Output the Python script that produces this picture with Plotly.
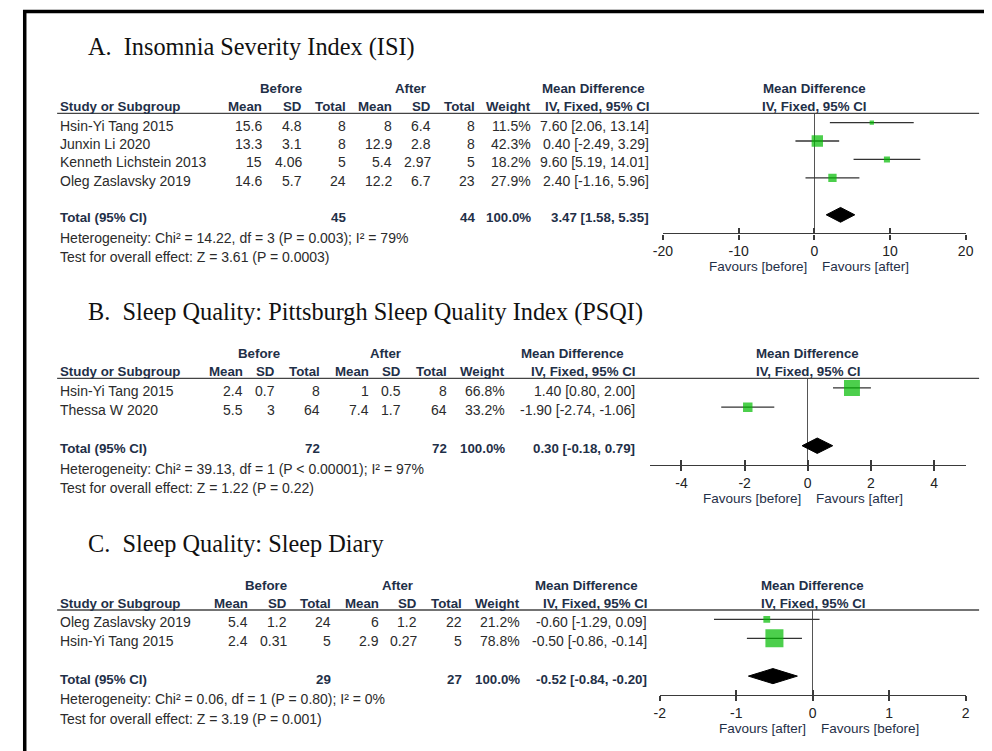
import plotly.graph_objects as go

W, H = 992, 751

# ------------------------------------------------------------------ data
# Panel A: Insomnia Severity Index
a_title = "A.\u00a0\u00a0Insomnia Severity Index (ISI)"
a_studies = ["Hsin-Yi Tang 2015", "Junxin Li 2020", "Kenneth Lichstein 2013", "Oleg Zaslavsky 2019"]
a_before_mean = [15.6, 13.3, 15, 14.6]
a_before_sd = [4.8, 3.1, 4.06, 5.7]
a_before_n = [8, 8, 5, 24]
a_after_mean = [8, 12.9, 5.4, 12.2]
a_after_sd = [6.4, 2.8, 2.97, 6.7]
a_after_n = [8, 8, 5, 23]
a_weight = [11.5, 42.3, 18.2, 27.9]
a_md = [7.60, 0.40, 9.60, 2.40]
a_lo = [2.06, -2.49, 5.19, -1.16]
a_hi = [13.14, 3.29, 14.01, 5.96]
a_total_n = [45, 44]
a_total_weight = 100.0
a_total_md = [3.47, 1.58, 5.35]
a_het = "Heterogeneity: Chi\u00b2 = 14.22, df = 3 (P = 0.003); I\u00b2 = 79%"
a_test = "Test for overall effect: Z = 3.61 (P = 0.0003)"
a_ticks = [-20, -10, 0, 10, 20]
a_xrange = [-20, 20]
a_favours = ["Favours [before]", "Favours [after]"]

# Panel B: PSQI
b_title = "B.\u00a0\u00a0Sleep Quality: Pittsburgh Sleep Quality Index (PSQI)"
b_studies = ["Hsin-Yi Tang 2015", "Thessa W 2020"]
b_before_mean = [2.4, 5.5]
b_before_sd = [0.7, 3]
b_before_n = [8, 64]
b_after_mean = [1, 7.4]
b_after_sd = [0.5, 1.7]
b_after_n = [8, 64]
b_weight = [66.8, 33.2]
b_md = [1.40, -1.90]
b_lo = [0.80, -2.74]
b_hi = [2.00, -1.06]
b_total_n = [72, 72]
b_total_weight = 100.0
b_total_md = [0.30, -0.18, 0.79]
b_het = "Heterogeneity: Chi\u00b2 = 39.13, df = 1 (P < 0.00001); I\u00b2 = 97%"
b_test = "Test for overall effect: Z = 1.22 (P = 0.22)"
b_ticks = [-4, -2, 0, 2, 4]
b_xrange = [-5, 5]
b_favours = ["Favours [before]", "Favours [after]"]

# Panel C: Sleep Diary
c_title = "C.\u00a0\u00a0Sleep Quality: Sleep Diary"
c_studies = ["Oleg Zaslavsky 2019", "Hsin-Yi Tang 2015"]
c_before_mean = [5.4, 2.4]
c_before_sd = [1.2, 0.31]
c_before_n = [24, 5]
c_after_mean = [6, 2.9]
c_after_sd = [1.2, 0.27]
c_after_n = [22, 5]
c_weight = [21.2, 78.8]
c_md = [-0.60, -0.50]
c_lo = [-1.29, -0.86]
c_hi = [0.09, -0.14]
c_total_n = [29, 27]
c_total_weight = 100.0
c_total_md = [-0.52, -0.84, -0.20]
c_het = "Heterogeneity: Chi\u00b2 = 0.06, df = 1 (P = 0.80); I\u00b2 = 0%"
c_test = "Test for overall effect: Z = 3.19 (P = 0.001)"
c_ticks = [-2, -1, 0, 1, 2]
c_xrange = [-2, 2]
c_favours = ["Favours [after]", "Favours [before]"]

col_headers = ["Mean", "SD", "Total", "Mean", "SD", "Total", "Weight", "IV, Fixed, 95% CI"]

# ------------------------------------------------------------------ layout (pixel geometry)
panels = [
    dict(title=a_title, studies=a_studies, bm=a_before_mean, bs=a_before_sd, bn=a_before_n,
         am=a_after_mean, asd=a_after_sd, an=a_after_n, w=a_weight, md=a_md, lo=a_lo, hi=a_hi,
         tn=a_total_n, tw=a_total_weight, tmd=a_total_md, het=a_het, test=a_test,
         ticks=a_ticks, xr=a_xrange, fav=a_favours,
         title_y=47, line_y=113.3, axis_y=233.3, px0=665, px1=973.3,
         cols=[257.5, 298, 343, 390, 430, 475, 532, 652], before_c=276, after_c=408, mdc=594),
    dict(title=b_title, studies=b_studies, bm=b_before_mean, bs=b_before_sd, bn=b_before_n,
         am=b_after_mean, asd=b_after_sd, an=b_after_n, w=b_weight, md=b_md, lo=b_lo, hi=b_hi,
         tn=b_total_n, tw=b_total_weight, tmd=b_total_md, het=b_het, test=b_test,
         ticks=b_ticks, xr=b_xrange, fav=b_favours,
         title_y=312, line_y=378.3, axis_y=465, px0=651.7, px1=973.3,
         cols=[238, 271, 317, 367, 399, 446, 505, 638], before_c=254, after_c=382, mdc=573),
    dict(title=c_title, studies=c_studies, bm=c_before_mean, bs=c_before_sd, bn=c_before_n,
         am=c_after_mean, asd=c_after_sd, an=c_after_n, w=c_weight, md=c_md, lo=c_lo, hi=c_hi,
         tn=c_total_n, tw=c_total_weight, tmd=c_total_md, het=c_het, test=c_test,
         ticks=c_ticks, xr=c_xrange, fav=c_favours,
         title_y=543, line_y=610, axis_y=695, px0=661.7, px1=973.3,
         cols=[243, 283, 328, 377, 416, 461, 520.5, 650], before_c=261, after_c=395, mdc=587),
]

SANS = "Liberation Sans, Arial, sans-serif"
SERIF = "Liberation Serif, Times New Roman, serif"
HEAD = "#1f3048"
BODY = "#2b2b2b"
AXC = "#3a3a3a"
GREEN = "#00bb00"
FS = 14        # body text
FSB = 13.3     # bold header text


def fx(px):
    return px / W


def fy(py):
    return 1 - py / H


def num(v):
    return f"{v:g}"


fig = go.Figure()
ann = []
shapes = []


def text(x, y, s, anchor="left", bold=False, color=BODY, size=None, font=SANS):
    if size is None:
        size = FSB if bold else FS
    ann.append(dict(x=fx(x), y=fy(y), xref="paper", yref="paper", text=(f"<b>{s}</b>" if bold else s),
                    showarrow=False, xanchor=anchor, yanchor="middle",
                    font=dict(family=font, size=size, color=color), borderpad=0))


for k, p in enumerate(panels, start=1):
    n = len(p["studies"])
    pitch = (p["axis_y"] - p["line_y"]) / (n + 2.5)
    xa = "x" if k == 1 else f"x{k}"
    ya = "y" if k == 1 else f"y{k}"
    xo = f"x{k + 3}"

    # title
    text(78, p["title_y"], p["title"], font=SERIF, size=24.3, color="#111111")

    # header rows
    h1 = p["line_y"] - 25
    h2 = p["line_y"] - 7
    text(p["before_c"], h1, "Before", "center", True, HEAD)
    text(p["after_c"], h1, "After", "center", True, HEAD)
    text(p["mdc"], h1, "Mean Difference", "center", True, HEAD)
    text(50, h2, "Study or Subgroup", "left", True, HEAD)
    for cx, lab in zip(p["cols"], col_headers):
        text(cx, h2, lab, "right", True, HEAD)
    mid = (p["px0"] + p["px1"]) / 2
    text(mid, h1, "Mean Difference", "center", True, HEAD)
    text(mid, h2, "IV, Fixed, 95% CI", "center", True, HEAD)

    # header rule
    shapes.append(dict(type="line", xref="paper", yref="paper", x0=fx(48), x1=fx(987),
                       y0=fy(p["line_y"]), y1=fy(p["line_y"]), line=dict(color="#444444", width=1.3)))

    # study rows
    for i in range(n):
        ry = p["line_y"] + (i + 0.5) * pitch + 3
        cells = [num(p["bm"][i]), num(p["bs"][i]), str(p["bn"][i]),
                 num(p["am"][i]), num(p["asd"][i]), str(p["an"][i]),
                 f"{p['w'][i]:.1f}%", f"{p['md'][i]:.2f} [{p['lo'][i]:.2f}, {p['hi'][i]:.2f}]"]
        text(50, ry, p["studies"][i])
        for cx, c in zip(p["cols"], cells):
            text(cx, ry, c, "right")

    # total row
    ty = p["line_y"] + (n + 1.5) * pitch + 3
    text(50, ty, "Total (95% CI)", "left", True, HEAD)
    text(p["cols"][2], ty, str(p["tn"][0]), "right", True, HEAD)
    text(p["cols"][5], ty, str(p["tn"][1]), "right", True, HEAD)
    text(p["cols"][6], ty, f"{p['tw']:.1f}%", "right", True, HEAD)
    m, l, h = p["tmd"]
    text(p["cols"][7], ty, f"{m:.2f} [{l:.2f}, {h:.2f}]", "right", True, HEAD)
    text(50, ty + 20, p["het"])
    text(50, ty + 39.5, p["test"])

    # forest: study estimates
    sizes = [0.7 * wt ** 0.744 for wt in p["w"]]
    fig.add_trace(go.Scatter(
        x=p["md"], y=list(range(n)), mode="markers", xaxis=xa, yaxis=ya,
        marker=dict(symbol="square", size=sizes, color=GREEN, line=dict(width=0)),
        error_x=dict(type="data", symmetric=False,
                     array=[hh - mm for hh, mm in zip(p["hi"], p["md"])],
                     arrayminus=[mm - ll for mm, ll in zip(p["md"], p["lo"])],
                     width=0, thickness=1.3, color="#333333"),
        showlegend=False, hoverinfo="skip"))
    # pooled diamond
    t = n + 1
    fig.add_trace(go.Scatter(
        x=[l, m, h, m, l], y=[t, t - 0.4, t, t + 0.4, t], mode="lines", fill="toself",
        fillcolor="black", line=dict(color="black", width=1), xaxis=xa, yaxis=ya,
        showlegend=False, hoverinfo="skip"))
    # invisible trace for overlay tick axis
    fig.add_trace(go.Scatter(x=[0], y=[0], mode="markers", marker=dict(opacity=0),
                             xaxis=xo, yaxis=ya, showlegend=False, hoverinfo="skip"))

    ticktext = [str(v) for v in p["ticks"]]
    xdom = [fx(p["px0"]), fx(p["px1"])]
    ydom = [fy(p["axis_y"]), fy(p["line_y"])]
    fig.update_layout(**{
        ("xaxis" if k == 1 else f"xaxis{k}"): dict(
            domain=xdom, range=p["xr"], anchor=ya, tickvals=p["ticks"], ticktext=ticktext,
            ticks="outside", ticklen=5,
            tickwidth=1.5, tickcolor=AXC, showline=True, linecolor=AXC, linewidth=1.4,
            showgrid=False, zeroline=True, zerolinecolor="#555555", zerolinewidth=1.2,
            tickfont=dict(family=SANS, size=14, color="#222222"), fixedrange=True),
        f"xaxis{k + 3}": dict(
            overlaying=xa, anchor=ya, side="bottom", range=p["xr"], tickvals=p["ticks"],
            ticks="inside", ticklen=5, tickwidth=1.5, tickcolor=AXC, showticklabels=False,
            showline=False, showgrid=False, zeroline=False, fixedrange=True),
        ("yaxis" if k == 1 else f"yaxis{k}"): dict(
            domain=ydom, range=[n + 2, -0.5], visible=False, fixedrange=True),
    })

    # favours labels
    fy0 = p["axis_y"] + 33
    ann.append(dict(x=0, xref=xa, y=fy(fy0), yref="paper", text=p["fav"][0], showarrow=False,
                    xanchor="right", yanchor="middle", xshift=-5,
                    font=dict(family=SANS, size=13.5, color=HEAD)))
    ann.append(dict(x=0, xref=xa, y=fy(fy0), yref="paper", text=p["fav"][1], showarrow=False,
                    xanchor="left", yanchor="middle", xshift=6,
                    font=dict(family=SANS, size=13.5, color=HEAD)))

# frame (left and top borders)
shapes.append(dict(type="line", xref="paper", yref="paper", x0=fx(15), x1=fx(15), y0=fy(10), y1=0,
                   line=dict(color="black", width=3.5)))
shapes.append(dict(type="line", xref="paper", yref="paper", x0=fx(13.3), x1=1, y0=fy(11.5), y1=fy(11.5),
                   line=dict(color="black", width=3.5)))

fig.update_layout(width=W, height=H, margin=dict(l=0, r=0, t=0, b=0), paper_bgcolor="white",
                  plot_bgcolor="rgba(0,0,0,0)", annotations=ann, shapes=shapes, showlegend=False)

fig.write_html("out.html", config={"displayModeBar": False},
               post_script="document.body.style.margin='0px';document.body.style.overflow='hidden';")
